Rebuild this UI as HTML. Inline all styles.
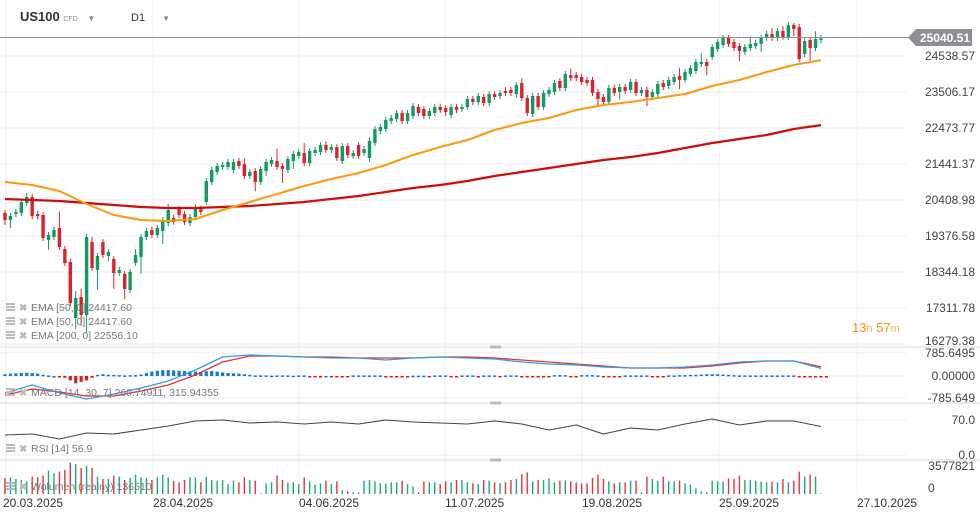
<!DOCTYPE html>
<html><head><meta charset="utf-8">
<style>
html,body{margin:0;padding:0;background:#fff;width:980px;height:518px;overflow:hidden;font-family:"Liberation Sans",Arial,sans-serif}
#wrap{position:relative;width:980px;height:518px}
.hdr{position:absolute;top:9px;font-size:13px;color:#333}
</style></head>
<body>
<div id="wrap">
<div class="hdr" style="left:20px;font-weight:bold;font-size:13px">US100 <span style="font-size:7px;color:#888;font-weight:normal">CFD</span> <span style="font-size:8px;color:#888;margin-left:6px">▼</span></div>
<div class="hdr" style="left:131px;font-size:11px;top:12px">D1 <span style="font-size:8px;color:#888;margin-left:14px">▼</span></div>
<svg id="svg" width="980" height="518" style="position:absolute;left:0;top:0"></svg>
</div>
<script>
const opens=[20036,19835,20007,20036,20323,20495,20007,19979,19262,19348,19606,19004,18631,17025,17628,17111,19204,18401,19204,18803,18717,18315,18287,17828,18602,18774,19348,19548,19405,19520,19749,19893,20151,20007,19749,19921,20151,20352,20924,21212,21355,21355,21269,21527,21441,21098,21241,20924,21241,21441,21527,21384,21269,21527,21671,21757,21470,21757,21786,21986,21843,21929,21527,21958,21671,21986,21757,21614,22044,22388,22445,22675,22732,22904,22675,22818,23076,23019,22818,22904,23076,23048,22847,23076,23019,23076,23306,23220,23363,23191,23449,23392,23535,23564,23449,23765,23334,22875,23392,23076,23449,23506,23822,23621,23994,23994,23937,23851,23851,23506,23363,23220,23621,23506,23650,23564,23793,23478,23564,23363,23449,23765,23679,23793,23965,23851,24023,24109,24310,24367,24510,24740,24854,25055,24940,24826,24654,24768,24826,24883,25055,25170,25055,25256,25084,25428,25371,24596,24998,24768,24998];
const closes=[19835,19950,20065,20352,20495,19950,19950,19319,19405,19548,19061,18602,17456,17600,17111,19348,18459,18803,18832,18918,18315,18401,17857,18344,18832,19348,19520,19405,19606,19835,20122,19778,19979,19778,19921,20151,20065,20952,21269,21384,21413,21499,21499,21384,21098,21212,20924,21298,21499,21556,21355,21298,21585,21728,21786,21470,21814,21843,21986,21843,21929,21614,21958,21700,21757,21671,21872,22101,22445,22503,22703,22761,22904,22675,22904,23105,22904,22818,22962,23076,22990,22933,23076,22990,23076,23306,23220,23392,23191,23449,23363,23478,23478,23478,23707,23334,22904,23392,23076,23478,23564,23765,23621,24023,23908,23908,23793,23765,23478,23306,23220,23621,23478,23650,23535,23793,23478,23564,23363,23506,23736,23650,23851,23937,23851,24080,24195,24367,24367,24252,24797,24940,25055,24883,24768,24682,24797,24883,24912,25055,25170,25055,25256,25084,25428,25313,24453,24969,24768,25026,25041];
const highs=[20122,20036,20150,20440,20610,20580,20090,20060,19490,19640,20080,19090,18720,17800,17860,19440,19350,18890,19290,19000,18800,18490,18370,18430,19000,19430,19610,19640,19690,19920,20300,19980,20240,20090,20010,20290,20240,21040,21360,21470,21500,21590,21590,21610,21610,21300,21330,21380,21590,21640,21880,21470,21670,21820,21870,22040,21900,21930,22070,22100,22010,22010,22040,22040,21840,22070,21960,22200,22530,22590,22790,22850,22990,22990,22990,23190,23160,23100,23050,23160,23160,23130,23160,23160,23160,23390,23390,23480,23450,23530,23530,23560,23650,23650,23790,23900,23420,23480,23480,23560,23650,23850,23910,24110,24170,24080,24020,23940,23940,23590,23450,23710,23710,23740,23740,23880,23880,23650,23650,23590,23820,23850,23940,24020,24200,24170,24280,24450,24620,24450,24880,25030,25140,25140,25030,24910,24880,25100,25000,25140,25260,25340,25340,25400,25510,25480,25460,25050,25080,25250,25140];
const lows=[19692,19606,19920,19950,20240,19860,19860,19230,18980,19260,18970,18520,17370,16700,16800,16600,18380,17830,18740,18650,17860,18230,17570,17740,18520,18300,19260,19320,19320,19150,19660,19700,19890,19690,19660,19830,19980,20270,20840,21130,21270,21270,21180,21300,21010,21010,20660,20840,21100,21360,21270,20900,21180,21300,21590,21380,21380,21670,21700,21760,21760,21530,21440,21610,21590,21590,21670,21500,21960,22300,22360,22590,22650,22590,22590,22730,22820,22730,22730,22820,22900,22820,22760,22900,22930,22990,23130,23130,23100,23100,23280,23300,23390,23390,23330,23250,22820,22790,22990,22990,23360,23420,23530,23530,23820,23820,23710,23680,23390,23100,23130,23130,23390,23300,23450,23480,23390,23390,23100,23280,23360,23560,23590,23710,23590,23770,23940,24020,24220,23990,24420,24650,24770,24800,24680,24400,24570,24680,24740,24650,24970,24970,24970,25000,25000,25100,24370,24510,24400,24680,24900];
const volumes=[1848,1925,1733,1617,1463,2002,1925,2118,2695,2387,2580,2772,3619,3465,3003,3273,3003,2002,1733,1733,2118,2002,1617,1848,2233,1925,1848,1617,1925,2233,1925,1540,1348,1617,1925,1925,1348,2002,1617,1540,1617,1155,1540,1348,1925,1617,1540,77,1232,1348,2118,1617,1348,1348,1155,1925,1463,1078,1232,1540,1155,1463,462,308,193,193,1540,1617,1463,1232,1232,1348,1348,1540,1155,847,193,1463,1348,1348,1155,1463,1348,1617,1617,1348,1232,1155,1617,1540,1348,1232,1348,1617,1733,2310,2503,1463,1617,1617,1810,1348,1540,1540,1463,1348,1232,1232,1848,2233,1733,1463,1232,1348,1348,1540,1540,193,2002,1733,1540,2002,1463,1463,1540,1232,1078,655,308,193,1540,1463,1463,1810,1733,2118,1617,1617,1540,1425,1348,1425,1348,1733,1348,1540,2580,2002,2233,2002,77];
// indicator samples every 5 candles (index 0,5,...,150)
const ema50=[20925,20839,20667,20294,19979,19835,19807,19864,20122,20352,20581,20811,21011,21183,21413,21700,21929,22130,22417,22617,22761,22990,23134,23220,23334,23449,23679,23851,24080,24281,24418];
const ema200=[20438,20409,20380,20323,20266,20208,20180,20180,20208,20237,20294,20352,20438,20524,20638,20753,20839,20954,21098,21212,21327,21441,21556,21642,21757,21900,22044,22158,22273,22445,22556];
const macdLine=[-581,-307,-581,-786,-615,-410,-171,205,649,717,683,649,615,615,547,615,649,615,581,478,410,376,307,273,273,307,376,478,512,512,261];
const signalLine=[-649,-444,-547,-683,-683,-512,-307,34,478,683,683,649,649,615,615,615,649,649,615,547,478,410,342,273,273,273,342,444,512,512,316];
const macdHist=[60,80,90,100,110,100,80,40,20,0,-20,-60,-150,-250,-200,-150,-60,40,60,40,40,30,20,30,30,50,100,150,180,200,200,190,180,170,160,150,140,160,170,150,120,100,90,80,60,40,20,20,20,10,20,20,20,10,20,20,-20,-20,-20,0,-20,-20,-20,-20,20,20,20,20,20,20,-20,-20,-20,-20,-20,10,10,10,-20,20,20,20,-20,-20,20,20,20,-20,20,20,20,-20,20,20,20,-40,-40,-40,-40,-40,-40,30,30,30,-30,-30,30,30,30,20,-30,-30,-30,-30,20,20,20,20,20,-25,-25,-25,20,20,30,30,40,40,50,60,60,60,50,40,30,20,20,20,20,20,20,20,20,20,20,20,-30,-30,-40,-40,-55,-55];
// RSI samples every 5 candles
const rsi=[40,42,32,44,42,50,58,68,70,64,66,62,66,62,70,66,64,62,68,62,50,60,42,54,50,62,72,60,68,68,57];
const priceTicks=[24538.57,23506.17,22473.77,21441.37,20408.98,19376.58,18344.18,17311.78,16279.38];
const dateLabels=["20.03.2025","28.04.2025","04.06.2025","11.07.2025","19.08.2025","25.09.2025","27.10.2025"];

const NS="http://www.w3.org/2000/svg";
const svg=document.getElementById('svg');
function mk(t,a,p){const e=document.createElementNS(NS,t);for(const k in a)e.setAttribute(k,a[k]);(p||svg).appendChild(e);return e;}
const X0=5,STEP=5.44;
const xAt=i=>X0+i*STEP;
const yP=v=>(26145-v)/28.68;
const yM=v=>376-v/34.16;
const yR=v=>455-v*0.5;
const yV=v=>494-v/3577.821*31;
const GREEN="#129a62",RED="#d9222f",GRID="#eeeeee";

const gridX=[6,153,299,445,582,719,857];
gridX.forEach(x=>{const l=mk('line',{x1:x,y1:0,x2:x,y2:495,stroke:GRID});

});
priceTicks.forEach(t=>{const y=yP(t);
const l=mk('line',{x1:0,y1:y,x2:906,y2:y,stroke:GRID});


const tx=mk('text',{x:975,y:Math.min(y+4,345),'text-anchor':'end','font-size':12,fill:'#444'});tx.textContent=t.toFixed(2);

});
[353,376,398].forEach(y=>{const l=mk('line',{x1:0,y1:y,x2:906,y2:y,stroke:GRID});

});
[420,455].forEach(y=>{const l=mk('line',{x1:0,y1:y,x2:906,y2:y,stroke:GRID});

});
[347,403,460].forEach(y=>{const l=mk('line',{x1:0,y1:y,x2:980,y2:y,stroke:'#d8d8d8'});


const h=mk('rect',{x:490,y:y-1.5,width:11,height:3,fill:'#bbb'});

});
[["785.6495",357],["0.00000",380],["-785.649",402],["70.0",424],["0.0",459],["3577821",470],["0",492]].forEach(a=>{
const t=mk('text',{x:a[0]=="0"?928:975,y:a[1],'text-anchor':a[0]=="0"?'start':'end','font-size':12,fill:'#444'});t.textContent=a[0];

});

const cg=mk('g',{});


opens.forEach((o,i)=>{const c=closes[i],col=c>=o?GREEN:RED,x=xAt(i);
const w=mk('line',{x1:x,y1:yP(highs[i]),x2:x,y2:yP(lows[i]),stroke:col,'stroke-width':1},cg);


const top=Math.min(yP(o),yP(c)),h=Math.max(1,Math.abs(yP(o)-yP(c)));
const b=mk('rect',{x:x-1.7,y:top,width:3.4,height:h,fill:col},cg);

});
function line(arr,xf,yf,col,w,name){const pts=arr.map((v,k)=>xf(k).toFixed(1)+','+yf(v).toFixed(1)).join(' ');
const p=mk('polyline',{points:pts,fill:'none',stroke:col,'stroke-width':w,'stroke-linejoin':'round'});

return p;}
line(ema200,k=>xAt(k*5),yP,'#d10a0a',2.2,'ema200-line');
line(ema50,k=>xAt(k*5),yP,'#ff9810',2,'ema50-line');
const pl=mk('line',{x1:0,y1:37.5,x2:910,y2:37.5,stroke:'#8c9196','stroke-width':1});


const tag=mk('path',{d:'M908,37.5 L916,29 L972,29 L972,46 L916,46 Z',fill:'#8a9095'});


const tt=mk('text',{x:970,y:42,'text-anchor':'end','font-size':12,'font-weight':'bold',fill:'#fff'});tt.textContent='25040.51';


const cd=mk('text',{x:852,y:332,'font-size':13,fill:'#f39200'});
cd.innerHTML='13<tspan fill="#f7b65b" font-size="11">h</tspan> 57<tspan fill="#f7b65b" font-size="11">m</tspan>';



macdHist.forEach((v,i)=>{const y0=yM(0),y1=yM(v);
const r=mk('rect',{x:xAt(i)-1.6,y:Math.min(y0,y1),width:3.2,height:Math.max(1.5,Math.abs(y1-y0)),fill:v>=0?'#1679c8':'#e01b1b'});

});
line(signalLine,k=>xAt(k*5),yM,'#e03535',1.3,'macd-signal-line');
line(macdLine,k=>xAt(k*5),yM,'#3a9ae0',1.3,'macd-line');
line(rsi,k=>xAt(k*5),yR,'#444',1.1,'rsi-line');
volumes.forEach((v,i)=>{const col=closes[i]>=opens[i]?'#13b06f':'#e2353a';
const r=mk('rect',{x:xAt(i)-0.7,y:yV(v),width:1.4,height:494-yV(v),fill:col});

});
dateLabels.forEach((d,k)=>{const t=mk('text',{x:gridX[k]==6?3:gridX[k],y:507,'font-size':12,fill:'#333'});t.textContent=d;

});
function legend(y,txt,name){
const ic=mk('g',{});


mk('rect',{x:6,y:y-8,width:9,height:2,fill:'#bbb'},ic);mk('rect',{x:6,y:y-5,width:9,height:2,fill:'#bbb'},ic);mk('rect',{x:6,y:y-2,width:9,height:2,fill:'#bbb'},ic);
const xx=mk('text',{x:19,y:y,'font-size':10,fill:'#bbb','font-weight':'bold'},ic);xx.textContent='✖';
const t=mk('text',{x:31,y:y,'font-size':10.5,fill:'#777'});t.textContent=txt;

}
legend(311,'EMA [50, 0]  24417.60','ema50-legend');
legend(325,'EMA [50, 0]  24417.60','ema50-legend-duplicate');
legend(339,'EMA [200, 0]  22556.10','ema200-legend');
legend(396,'MACD [14, 30, 7]  260.74911,   315.94355','macd-legend');
legend(452,'RSI [14]  56.9','rsi-legend');
legend(490,'Wolumen (realny)  136510','volume-legend');
</script>
</body></html>
